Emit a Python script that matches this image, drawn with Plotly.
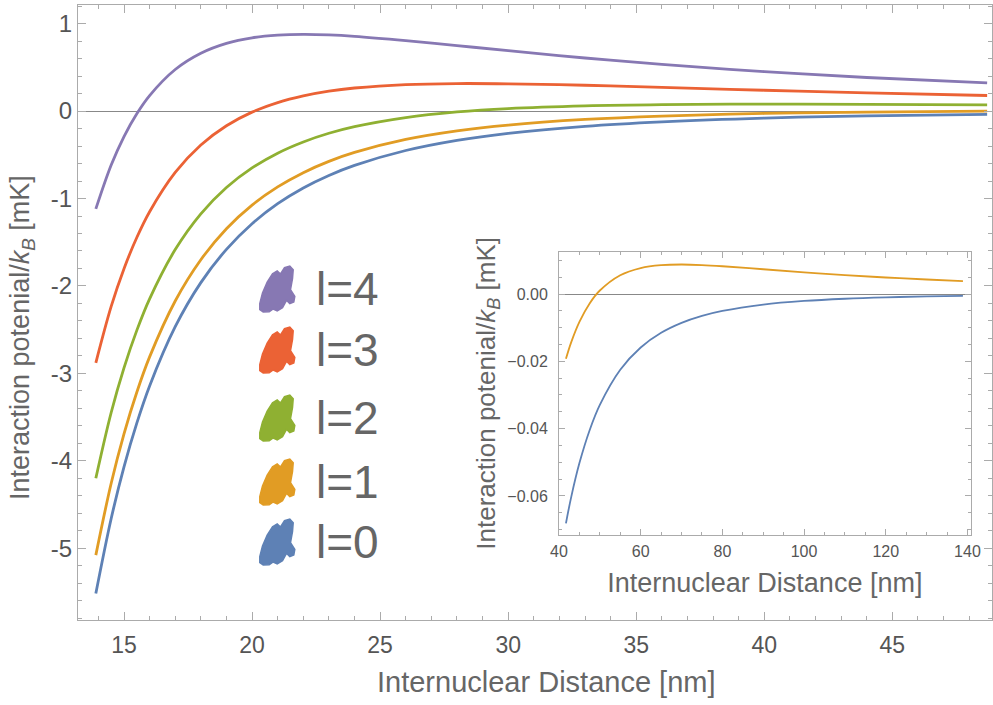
import plotly.graph_objects as go

# ---------------- data ----------------
r_main = [13.9, 14.5, 15, 15.5, 16, 17, 18, 19, 20, 21, 22, 23, 24, 26, 28, 30, 33, 36, 40, 44, 48.7]
v_l0 = [-5.518, -4.660, -4.069, -3.569, -3.143, -2.466, -1.962, -1.581, -1.288, -1.059, -0.879, -0.736,
        -0.621, -0.451, -0.335, -0.254, -0.174, -0.123, -0.080, -0.055, -0.037]
v_l1 = [-5.078, -4.256, -3.691, -3.215, -2.811, -2.172, -1.700, -1.345, -1.075, -0.867, -0.704, -0.575,
        -0.473, -0.325, -0.227, -0.160, -0.096, -0.057, -0.027, -0.011, -0.001]
v_l2 = [-4.199, -3.447, -2.936, -2.508, -2.147, -1.584, -1.175, -0.874, -0.650, -0.481, -0.353, -0.254,
        -0.178, -0.074, -0.010, 0.029, 0.060, 0.074, 0.079, 0.077, 0.071]
v_l3 = [-2.879, -2.234, -1.802, -1.446, -1.151, -0.702, -0.388, -0.168, -0.012, 0.097, 0.174, 0.228,
        0.264, 0.303, 0.315, 0.312, 0.295, 0.271, 0.238, 0.208, 0.178]
v_l4 = [-1.119, -0.617, -0.291, -0.031, 0.177, 0.475, 0.661, 0.774, 0.838, 0.868, 0.877, 0.871,
        0.855, 0.806, 0.749, 0.690, 0.607, 0.533, 0.451, 0.384, 0.322]

r_inset = [41.7, 43, 45, 47.5, 50, 55, 60, 65, 70, 75, 80, 90, 100, 110, 120, 130, 138.9]
vi_l0 = [-0.06813, -0.06026, -0.05024, -0.04047, -0.03296, -0.02251, -0.01590, -0.01154, -0.00858,
         -0.00651, -0.00503, -0.00314, -0.00206, -0.00141, -0.00099, -0.00072, -0.00055]
vi_l1 = [-0.01925, -0.01428, -0.00826, -0.00279, 0.00104, 0.00559, 0.00772, 0.00858, 0.00877,
         0.00860, 0.00825, 0.00735, 0.00644, 0.00562, 0.00491, 0.00431, 0.00385]

legend_labels = ["l=4", "l=3", "l=2", "l=1", "l=0"]

main_xticks = [15, 20, 25, 30, 35, 40, 45]
main_xticktext = ["15", "20", "25", "30", "35", "40", "45"]
main_yticks = [-5, -4, -3, -2, -1, 0, 1]
main_yticktext = ["-5", "-4", "-3", "-2", "-1", "0", "1"]
inset_xticks = [40, 60, 80, 100, 120, 140]
inset_xticktext = ["40", "60", "80", "100", "120", "140"]
inset_yticks = [-0.06, -0.04, -0.02, 0.0]
inset_yticktext = ["\u22120.06", "\u22120.04", "\u22120.02", "0.00"]

# ---------------- style ----------------
C_BLUE = "#5E81B5"
C_ORANGE = "#E19C24"
C_GREEN = "#8FB032"
C_RED = "#EB6235"
C_PURPLE = "#8778B3"
TXT = "#666666"
FRAME = "#ABABAB"
NARROW = "Liberation Sans Narrow, Arial Narrow, Liberation Sans, Arial, sans-serif"
SANS = "Liberation Sans, Arial, Helvetica, sans-serif"

W, H = 993, 705
ML, MR, MT, MB = 78, 1, 5, 85
PW, PH = W - ML - MR, H - MT - MB


def px2paper(px, py):
    return (px - ML) / PW, (H - MB - py) / PH


fig = go.Figure()

main_series = [(v_l0, C_BLUE), (v_l1, C_ORANGE), (v_l2, C_GREEN), (v_l3, C_RED), (v_l4, C_PURPLE)]
for vals, col in main_series:
    fig.add_trace(go.Scatter(x=r_main, y=vals, mode="lines",
                             line=dict(color=col, width=2.8, shape="spline", smoothing=1.0),
                             showlegend=False, hoverinfo="skip", xaxis="x", yaxis="y"))

for vals, col in [(vi_l0, C_BLUE), (vi_l1, C_ORANGE)]:
    fig.add_trace(go.Scatter(x=r_inset, y=vals, mode="lines",
                             line=dict(color=col, width=1.8, shape="spline", smoothing=1.0),
                             showlegend=False, hoverinfo="skip", xaxis="x2", yaxis="y2"))

ytitle = "Interaction potenial/<i>k</i><sub><i>B</i></sub> [mK]"
xtitle = "Internuclear Distance [nm]"

fig.update_layout(
    width=W, height=H,
    margin=dict(l=ML, r=MR, t=MT, b=MB, autoexpand=False),
    paper_bgcolor="white", plot_bgcolor="white",
    showlegend=False,
    xaxis=dict(
        domain=[0, 1], range=[13.204, 48.89], showgrid=False, zeroline=False,
        showline=True, linecolor=FRAME, linewidth=1.2, mirror="ticks",
        ticks="inside", ticklen=8, tickwidth=1, tickcolor=FRAME,
        tickvals=main_xticks, ticktext=main_xticktext,
        minor=dict(ticks="inside", ticklen=4, dtick=1, tick0=0, tickcolor=FRAME, showgrid=False),
        tickfont=dict(family=NARROW, size=23, color="#555555"),
        ticklabelstandoff=4,
    ),
    yaxis=dict(
        domain=[0, 1], range=[-5.82, 1.213], showgrid=False,
        zeroline=True, zerolinecolor="#888888", zerolinewidth=1,
        showline=True, linecolor=FRAME, linewidth=1.2, mirror="ticks",
        ticks="inside", ticklen=8, tickwidth=1, tickcolor=FRAME,
        tickvals=main_yticks, ticktext=main_yticktext,
        minor=dict(ticks="inside", ticklen=4, dtick=0.2, tick0=0, tickcolor=FRAME, showgrid=False),
        tickfont=dict(family=SANS, size=24, color="#555555"),
        ticklabelstandoff=0,
    ),
    xaxis2=dict(
        domain=[px2paper(559, 0)[0], px2paper(970.7, 0)[0]], range=[40, 140.8], anchor="y2",
        showgrid=False, zeroline=False,
        showline=True, linecolor=FRAME, linewidth=1, mirror="ticks",
        ticks="inside", ticklen=6, tickwidth=1, tickcolor=FRAME,
        tickvals=inset_xticks, ticktext=inset_xticktext,
        minor=dict(ticks="inside", ticklen=3, dtick=5, tick0=0, tickcolor=FRAME, showgrid=False),
        tickfont=dict(family=SANS, size=16, color="#555555"),
        ticklabelstandoff=2,
        title=dict(text=xtitle, font=dict(family=SANS, size=27, color=TXT), standoff=13),
    ),
    yaxis2=dict(
        domain=[px2paper(0, 535)[1], px2paper(0, 251.7)[1]], range=[-0.0716, 0.01257], anchor="x2",
        showgrid=False, zeroline=True, zerolinecolor="#888888", zerolinewidth=1,
        showline=True, linecolor=FRAME, linewidth=1, mirror="ticks",
        ticks="inside", ticklen=6, tickwidth=1, tickcolor=FRAME,
        tickvals=inset_yticks, ticktext=inset_yticktext,
        minor=dict(ticks="inside", ticklen=3, dtick=0.005, tick0=0, tickcolor=FRAME, showgrid=False),
        tickfont=dict(family=SANS, size=16, color="#555555"),
        ticklabelstandoff=7,
        title=dict(text=ytitle, font=dict(family=SANS, size=26, color=TXT), standoff=4),
    ),
)

# main axis titles placed as annotations
xt_x, xt_y = px2paper(546, 682)
fig.add_annotation(x=xt_x, y=xt_y, xref="paper", yref="paper", text=xtitle, showarrow=False,
                   xanchor="center", yanchor="middle", font=dict(family=NARROW, size=29, color=TXT))
yt_x, yt_y = px2paper(22, 338)
fig.add_annotation(x=yt_x, y=yt_y, xref="paper", yref="paper", text=ytitle, showarrow=False,
                   textangle=-90, xanchor="center", yanchor="middle",
                   font=dict(family=SANS, size=27, color=TXT))

# ---------------- hand-made legend (brush-stroke icons + labels) ----------------
blob = [(-17.7, -20.7), (-17.7, -14.7), (-15, -4), (-10.3, 7), (-5, 15.3), (-0.3, 18), (3, 15),
        (7, 21.3), (12.3, 23), (15.7, 19.3), (15, 10.3), (13, -0.7), (17.3, -7.3), (16.3, -13),
        (12.3, -14.7), (9, -11.3), (5, -18.7), (-0.3, -22), (-4.3, -20), (-8.3, -22.7), (-14.3, -23)]
path = "M " + " L ".join(f"{x:.1f},{y:.1f}" for x, y in blob) + " Z"

legend_rows = [(289, C_PURPLE), (350, C_RED), (418, C_GREEN), (482, C_ORANGE), (542, C_BLUE)]
for lab, (py, col) in zip(legend_labels, legend_rows):
    ax_, ay_ = px2paper(277.5, py)
    fig.add_shape(type="path", xref="paper", yref="paper", xsizemode="pixel", ysizemode="pixel",
                  xanchor=ax_, yanchor=ay_, path=path, fillcolor=col, line=dict(color=col, width=1.5))
    tx, ty = px2paper(314, py)
    fig.add_annotation(x=tx, y=ty, xref="paper", yref="paper", text=lab, showarrow=False,
                       xanchor="left", yanchor="middle",
                       font=dict(family=SANS, size=46, color=TXT))

fig.write_html("out.html", config={"displayModeBar": False},
               post_script="document.body.style.margin='0';")
